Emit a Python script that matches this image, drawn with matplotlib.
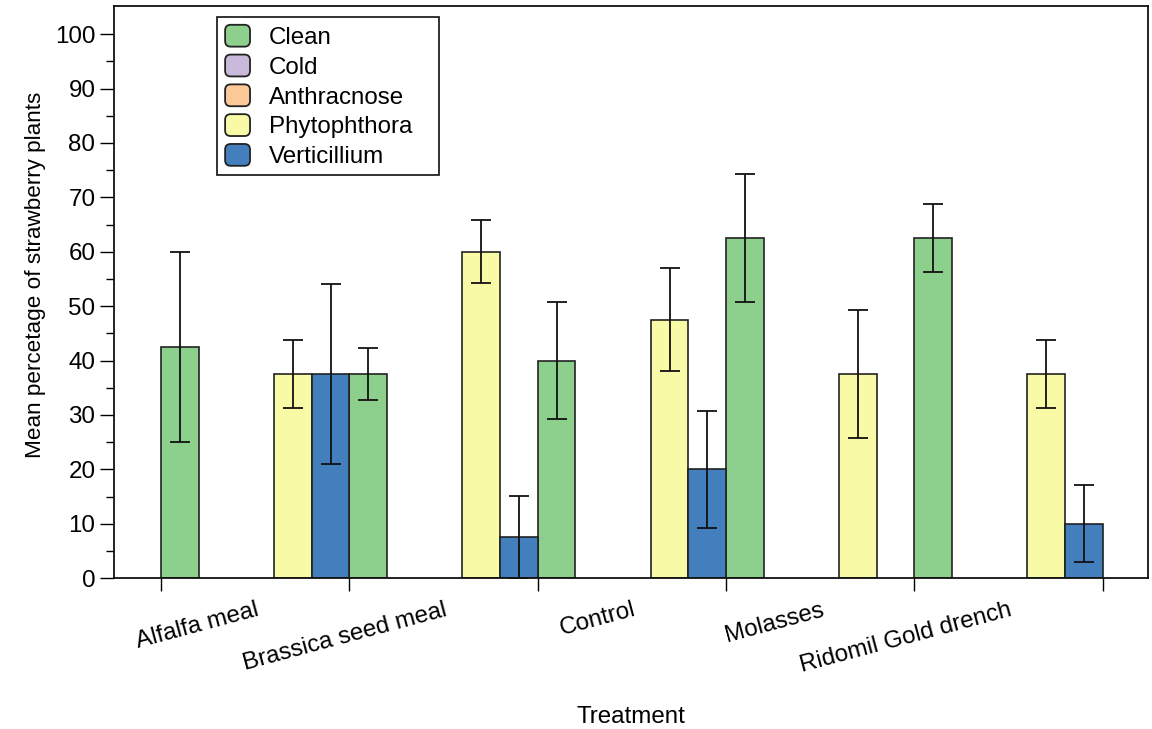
import numpy as np
import matplotlib
matplotlib.use('Agg')
import matplotlib.pyplot as plt
from matplotlib.patches import FancyBboxPatch, Patch
from matplotlib.legend_handler import HandlerPatch

plt.rcParams['font.family'] = ['Liberation Sans', 'DejaVu Sans']
plt.rcParams['font.size'] = 17.4

# data (nan = no bar)
treatments = ['Alfalfa meal', 'Brassica seed meal', 'Control', 'Molasses', 'Ridomil Gold drench']
series = ['Clean', 'Cold', 'Anthracnose', 'Phytophthora', 'Verticillium']
nan = np.nan
clean = [42.5, 37.5, 40.0, 62.5, 62.5]
clean_err = [17.5, 4.8, 10.8, 11.8, 6.3]
cold = [nan, nan, nan, nan, nan]
cold_err = [nan, nan, nan, nan, nan]
anthracnose = [nan, nan, nan, nan, nan]
anthracnose_err = [nan, nan, nan, nan, nan]
phytophthora = [37.5, 60.0, 47.5, 37.5, 37.5]
phytophthora_err = [6.25, 5.8, 9.5, 11.8, 6.3]
verticillium = [37.5, 7.5, 20.0, nan, 10.0]
verticillium_err = [16.6, 7.6, 10.8, nan, 7.1]

colors = ['#8dd08d', '#c9badb', '#fdc897', '#f9faa6', '#437ebd']
values = [clean, cold, anthracnose, phytophthora, verticillium]
errors = [clean_err, cold_err, anthracnose_err, phytophthora_err, verticillium_err]


class RoundHandler(HandlerPatch):
    # legend swatches with rounded corners
    def create_artists(self, legend, orig_handle, xdescent, ydescent,
                       width, height, fontsize, trans):
        p = FancyBboxPatch((-xdescent + 0.6, -ydescent + 0.6), width - 1.2, height - 1.2,
                           boxstyle='round,pad=0,rounding_size=4',
                           facecolor=orig_handle.get_facecolor(),
                           edgecolor='#222222', lw=1.3, transform=trans)
        return [p]


fig = plt.figure(figsize=(11.52, 7.29), dpi=100)
ax = fig.add_axes([0.099, 0.207, 0.8975, 0.785])

n_ser = len(series)
group_x = np.arange(len(treatments)) * n_ser
for i in range(n_ser):
    x = group_x + i + 0.5
    v = np.array(values[i], dtype=float)
    e = np.array(errors[i], dtype=float)
    ax.bar(x, v, width=1.0, color=colors[i], edgecolor='#222222', lw=1.2,
           label=series[i], zorder=2)
    ax.errorbar(x, v, yerr=e, fmt='none', ecolor='#111111', elinewidth=1.3,
                capsize=7, capthick=1.3, zorder=3)

ax.set_xlim(-1.25, 26.2)
ax.set_ylim(0, 105.2)

# group boundaries carry the tick marks, centres carry the labels
ax.set_xticks(np.arange(len(treatments) + 1) * n_ser)
ax.set_xticklabels([])
ax.set_xticks(group_x + n_ser / 2, minor=True)
ax.set_xticklabels(treatments, minor=True)
ax.tick_params(axis='x', which='major', direction='out', length=9.5, width=1.0)
ax.tick_params(axis='x', which='minor', length=0, pad=15)
for lab in ax.get_xticklabels(minor=True):
    lab.set_rotation(15)
    lab.set_ha('right')
    lab.set_va('top')
    lab.set_rotation_mode('anchor')

ax.set_yticks(np.arange(0, 101, 10))
ax.set_yticks(np.arange(5, 101, 10), minor=True)
ax.tick_params(axis='y', which='major', direction='out', length=10, width=1.0, pad=3.5)
ax.tick_params(axis='y', which='minor', direction='out', length=6, width=1.0)

for s in ax.spines.values():
    s.set_linewidth(1.3)
    s.set_color('#111111')

ax.set_xlabel('Treatment')
ax.xaxis.set_label_coords(0.5, -0.243)
ax.xaxis.label.set_va('center')
ax.set_ylabel('Mean percetage of strawberry plants', fontsize=16.2)
ax.yaxis.set_label_coords(-0.076, 0.53)
ax.yaxis.label.set_va('center')

handles = [Patch(facecolor=c) for c in colors]
leg = ax.legend(handles, series, loc='upper left',
                bbox_to_anchor=(0.0996, 0.0, 0.2147, 0.981), mode='expand',
                handler_map={Patch: RoundHandler()}, fancybox=False,
                edgecolor='#111111', framealpha=1, handlelength=1.1,
                handleheight=1.12, labelspacing=0.2, handletextpad=0.75,
                borderpad=0.3, borderaxespad=0)
leg.get_frame().set_linewidth(1.2)

fig.savefig('out.png', dpi=100)
